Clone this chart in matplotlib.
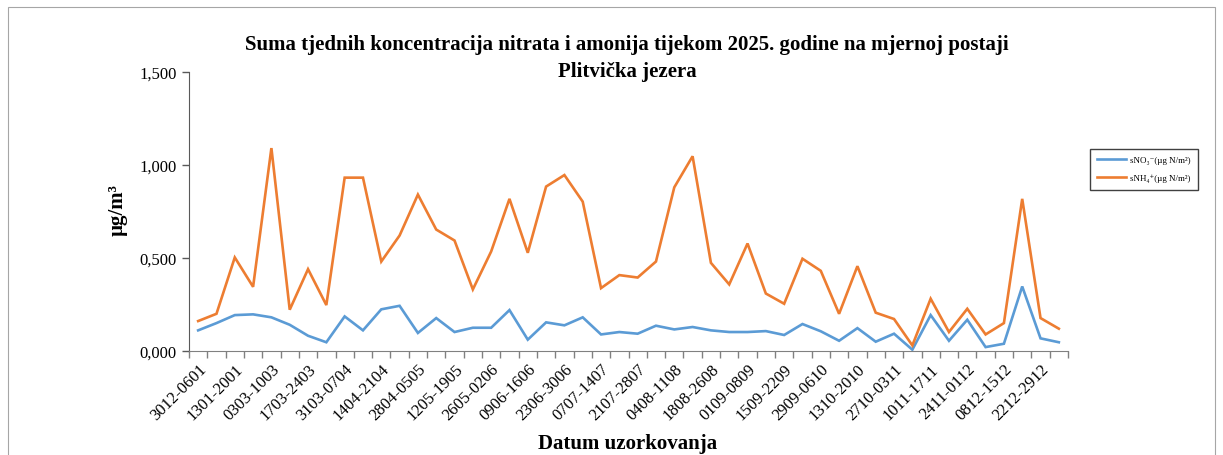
import numpy as np
import matplotlib
matplotlib.use("Agg")
import matplotlib.pyplot as plt
from matplotlib.patches import Rectangle

plt.rcParams['font.family'] = ['Liberation Serif', 'DejaVu Serif']

# sampling periods (ddmm-ddmm), one per category
periods = [
    "3012-0601", "0601-1301", "1301-2001", "2402-0303", "0303-1003", "1003-1703",
    "1703-2403", "2403-3103", "3103-0704", "0704-1404", "1404-2104", "2104-2804",
    "2804-0505", "0505-1205", "1205-1905", "1905-2605", "2605-0206", "0206-0906",
    "0906-1606", "1606-2306", "2306-3006", "3006-0707", "0707-1407", "1407-2107",
    "2107-2807", "2807-0408", "0408-1108", "1108-1808", "1808-2608", "2608-0109",
    "0109-0809", "0809-1509", "1509-2209", "2209-2909", "2909-0610", "0610-1310",
    "1310-2010", "2010-2710", "2710-0311", "0311-1011", "1011-1711", "1711-2411",
    "2411-0112", "0112-0812", "0812-1512", "1512-2212", "2212-2912", "2912-0501",
]

sno3 = [
    0.111, 0.150, 0.193, 0.197, 0.181, 0.141, 0.082, 0.047, 0.186, 0.111,
    0.224, 0.243, 0.097, 0.177, 0.102, 0.125, 0.125, 0.220, 0.061, 0.154,
    0.138, 0.181, 0.089, 0.102, 0.093, 0.136, 0.116, 0.129, 0.111, 0.102,
    0.102, 0.107, 0.086, 0.145, 0.106, 0.055, 0.123, 0.050, 0.093, 0.007,
    0.193, 0.055, 0.168, 0.021, 0.039, 0.347, 0.068, 0.047,
]

snh4 = [
    0.161, 0.200, 0.503, 0.345, 1.091, 0.222, 0.440, 0.247, 0.932, 0.932,
    0.481, 0.621, 0.841, 0.653, 0.594, 0.331, 0.535, 0.818, 0.528, 0.884,
    0.946, 0.803, 0.338, 0.408, 0.395, 0.481, 0.880, 1.047, 0.474, 0.358,
    0.578, 0.309, 0.254, 0.496, 0.431, 0.200, 0.456, 0.206, 0.172, 0.030,
    0.281, 0.102, 0.227, 0.089, 0.150, 0.818, 0.177, 0.120,
]

W, H = 1223, 456
fig = plt.figure(figsize=(W / 100, H / 100), dpi=100)
ax = fig.add_axes([189 / W, 1 - 352 / H, (1068 - 189) / W, (352 - 73) / H])

x = np.arange(len(periods))
l1, = ax.plot(x, sno3, color="#5B9BD5", lw=1.9, solid_joinstyle="miter")
l2, = ax.plot(x, snh4, color="#ED7D31", lw=1.9, solid_joinstyle="miter")

ax.set_xlim(-0.5, len(periods) - 0.5)
ax.set_ylim(0, 1.5)
ax.set_yticks([0, 0.5, 1.0, 1.5])
ax.set_yticklabels([f"{v:.3f}".replace(".", ",") for v in [0, 0.5, 1.0, 1.5]], fontsize=12)

# labels on every second category, tick marks between categories
ax.set_xticks(x[::2])
ax.set_xticklabels(periods[::2], rotation=45, ha="right", rotation_mode="anchor", fontsize=12)
ax.set_xticks(np.arange(len(periods) + 1) - 0.5, minor=True)
ax.tick_params(axis="x", which="major", length=0, pad=7)
ax.tick_params(axis="x", which="minor", length=5, color="#808080", width=1)
ax.tick_params(axis="y", length=5, color="#595959", width=1, pad=4)

for s in ["top", "right"]:
    ax.spines[s].set_visible(False)
ax.spines["left"].set_color("#595959")
ax.spines["bottom"].set_color("#808080")

fig.text(627 / W, 1 - 45 / H, "Suma tjednih koncentracija nitrata i amonija tijekom 2025. godine na mjernoj postaji",
         ha="center", va="center", fontsize=15, fontweight="bold")
fig.text(627 / W, 1 - 72 / H, "Plitvička jezera", ha="center", va="center", fontsize=15, fontweight="bold")
fig.text(118 / W, 1 - 210 / H, "µg/m³", ha="center", va="center", rotation=90, fontsize=15, fontweight="bold")
fig.text(628 / W, 1 - 444 / H, "Datum uzorkovanja", ha="center", va="center", fontsize=15, fontweight="bold")

fig.legend([l1, l2], ["sNO₃⁻(µg N/m²)", "sNH₄⁺(µg N/m²)"],
           loc="upper left", bbox_to_anchor=(1085 / W, 1 - 145 / H), fontsize=6.5,
           fancybox=False, edgecolor="#404040", framealpha=1, handlelength=3.2,
           borderpad=0.8, labelspacing=1.1, handletextpad=0.5)

fig.patches.append(Rectangle((8 / W, -0.1), (1215 - 8) / W, 1.1 - 8 / H,
                             transform=fig.transFigure, fill=False, edgecolor="#A6A6A6", lw=0.8))

fig.savefig("out.png", dpi=100)
